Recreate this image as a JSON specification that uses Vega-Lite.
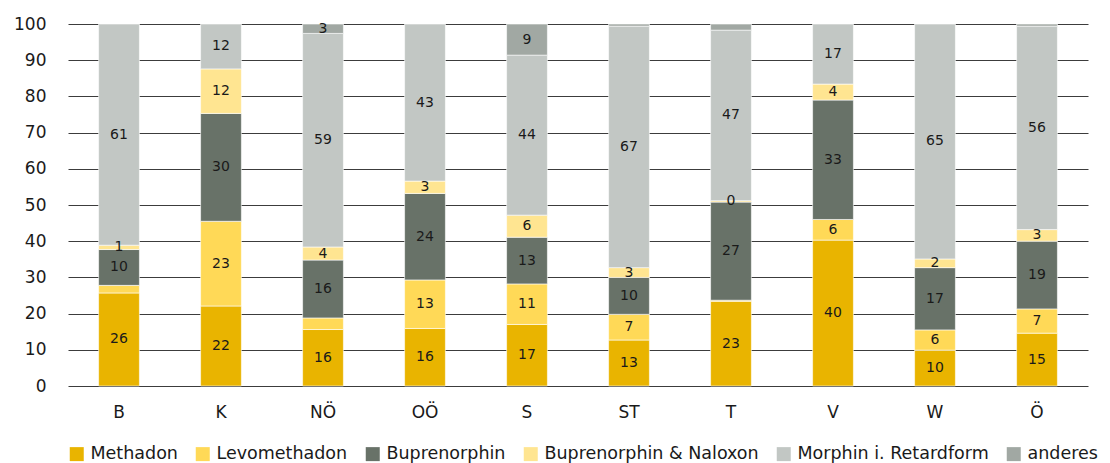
{
  "$schema": "https://vega.github.io/schema/vega-lite/v6.json",
  "width": 1020,
  "height": 362,
  "autosize": {"type": "none"},
  "padding": {"left": 68, "top": 24, "right": 22, "bottom": 77},
  "background": "#ffffff",
  "config": {
    "view": {"stroke": null},
    "font": "DejaVu Sans",
    "text": {"font": "DejaVu Sans"},
    "axisY": {
      "title": null,
      "values": [0, 10, 20, 30, 40, 50, 60, 70, 80, 90, 100],
      "labelOverlap": false,
      "ticks": false,
      "domain": false,
      "grid": true,
      "gridColor": "#3c3c3c",
      "gridWidth": 1,
      "labelPadding": 22,
      "labelFontSize": 17,
      "labelColor": "#1a1a1a"
    }
  },
  "datasets": {
    "drugs": [
      {"drug": "Methadon", "rank": 1},
      {"drug": "Levomethadon", "rank": 2},
      {"drug": "Buprenorphin", "rank": 3},
      {"drug": "Buprenorphin & Naloxon", "rank": 4},
      {"drug": "Morphin i. Retardform", "rank": 5},
      {"drug": "anderes", "rank": 6}
    ]
  },
  "data": {
    "values": [
      {"region": "B", "drug": "Methadon", "value": 25.7},
      {"region": "B", "drug": "Levomethadon", "value": 2.1},
      {"region": "B", "drug": "Buprenorphin", "value": 9.9},
      {"region": "B", "drug": "Buprenorphin & Naloxon", "value": 1.2},
      {"region": "B", "drug": "Morphin i. Retardform", "value": 61.1},

      {"region": "K", "drug": "Methadon", "value": 22.1},
      {"region": "K", "drug": "Levomethadon", "value": 23.4},
      {"region": "K", "drug": "Buprenorphin", "value": 29.8},
      {"region": "K", "drug": "Buprenorphin & Naloxon", "value": 12.3},
      {"region": "K", "drug": "Morphin i. Retardform", "value": 12.4},

      {"region": "NÖ", "drug": "Methadon", "value": 15.6},
      {"region": "NÖ", "drug": "Levomethadon", "value": 3.2},
      {"region": "NÖ", "drug": "Buprenorphin", "value": 16.0},
      {"region": "NÖ", "drug": "Buprenorphin & Naloxon", "value": 3.6},
      {"region": "NÖ", "drug": "Morphin i. Retardform", "value": 59.0},
      {"region": "NÖ", "drug": "anderes", "value": 2.6},

      {"region": "OÖ", "drug": "Methadon", "value": 15.9},
      {"region": "OÖ", "drug": "Levomethadon", "value": 13.4},
      {"region": "OÖ", "drug": "Buprenorphin", "value": 23.9},
      {"region": "OÖ", "drug": "Buprenorphin & Naloxon", "value": 3.4},
      {"region": "OÖ", "drug": "Morphin i. Retardform", "value": 43.4},

      {"region": "S", "drug": "Methadon", "value": 17.0},
      {"region": "S", "drug": "Levomethadon", "value": 11.2},
      {"region": "S", "drug": "Buprenorphin", "value": 12.9},
      {"region": "S", "drug": "Buprenorphin & Naloxon", "value": 6.1},
      {"region": "S", "drug": "Morphin i. Retardform", "value": 44.2},
      {"region": "S", "drug": "anderes", "value": 8.6},

      {"region": "ST", "drug": "Methadon", "value": 12.7},
      {"region": "ST", "drug": "Levomethadon", "value": 7.1},
      {"region": "ST", "drug": "Buprenorphin", "value": 10.2},
      {"region": "ST", "drug": "Buprenorphin & Naloxon", "value": 2.7},
      {"region": "ST", "drug": "Morphin i. Retardform", "value": 66.7},
      {"region": "ST", "drug": "anderes", "value": 0.6},

      {"region": "T", "drug": "Methadon", "value": 23.4},
      {"region": "T", "drug": "Levomethadon", "value": 0.3},
      {"region": "T", "drug": "Buprenorphin", "value": 27.1},
      {"region": "T", "drug": "Buprenorphin & Naloxon", "value": 0.4},
      {"region": "T", "drug": "Morphin i. Retardform", "value": 47.1},
      {"region": "T", "drug": "anderes", "value": 1.7},

      {"region": "V", "drug": "Methadon", "value": 40.3},
      {"region": "V", "drug": "Levomethadon", "value": 5.7},
      {"region": "V", "drug": "Buprenorphin", "value": 33.0},
      {"region": "V", "drug": "Buprenorphin & Naloxon", "value": 4.4},
      {"region": "V", "drug": "Morphin i. Retardform", "value": 16.6},

      {"region": "W", "drug": "Methadon", "value": 9.9},
      {"region": "W", "drug": "Levomethadon", "value": 5.6},
      {"region": "W", "drug": "Buprenorphin", "value": 17.2},
      {"region": "W", "drug": "Buprenorphin & Naloxon", "value": 2.4},
      {"region": "W", "drug": "Morphin i. Retardform", "value": 64.9},

      {"region": "Ö", "drug": "Methadon", "value": 14.6},
      {"region": "Ö", "drug": "Levomethadon", "value": 6.7},
      {"region": "Ö", "drug": "Buprenorphin", "value": 18.7},
      {"region": "Ö", "drug": "Buprenorphin & Naloxon", "value": 3.2},
      {"region": "Ö", "drug": "Morphin i. Retardform", "value": 56.2},
      {"region": "Ö", "drug": "anderes", "value": 0.6}
    ]
  },
  "transform": [
    {"lookup": "drug", "from": {"data": {"name": "drugs"}, "key": "drug", "fields": ["rank"]}}
  ],
  "encoding": {
    "x": {
      "field": "region",
      "type": "nominal",
      "sort": ["B", "K", "NÖ", "OÖ", "S", "ST", "T", "V", "W", "Ö"],
      "scale": {"paddingInner": 0.6, "paddingOuter": 0.3},
      "axis": {
        "title": null,
        "labelAngle": 0,
        "ticks": false,
        "domain": false,
        "labelPadding": 18,
        "labelFontSize": 17,
        "labelColor": "#1a1a1a"
      }
    },
    "order": {"field": "rank", "type": "quantitative", "sort": "ascending"}
  },
  "layer": [
    {
      "mark": {"type": "bar", "stroke": "#ffffff", "strokeWidth": 0.6},
      "encoding": {
        "y": {
          "field": "value",
          "type": "quantitative",
          "stack": "zero",
          "scale": {"domain": [0, 100], "nice": false}
        },
        "color": {
          "field": "drug",
          "type": "nominal",
          "sort": ["Methadon", "Levomethadon", "Buprenorphin", "Buprenorphin & Naloxon", "Morphin i. Retardform", "anderes"],
          "scale": {
            "domain": ["Methadon", "Levomethadon", "Buprenorphin", "Buprenorphin & Naloxon", "Morphin i. Retardform", "anderes"],
            "range": ["#e9b400", "#ffd957", "#687268", "#ffe591", "#c2c7c4", "#a1a8a3"]
          },
          "legend": {
            "title": null,
            "orient": "bottom",
            "direction": "horizontal",
            "symbolType": "square",
            "symbolSize": 196,
            "symbolStrokeWidth": 0,
            "labelFontSize": 17.5,
            "labelLimit": 400,
            "labelColor": "#1a1a1a",
            "labelOffset": 5,
            "columnPadding": 16,
            "offset": 25
          }
        }
      }
    },
    {
      "mark": {"type": "text", "fontSize": 14, "color": "#1a1a1a", "baseline": "middle"},
      "encoding": {
        "y": {
          "field": "value",
          "type": "quantitative",
          "stack": "zero",
          "bandPosition": 0.5,
          "scale": {"domain": [0, 100], "nice": false}
        },
        "detail": {"field": "drug", "type": "nominal"},
        "text": {"field": "value", "type": "quantitative", "format": ".0f"},
        "opacity": {
          "condition": {
            "test": "(datum.drug == 'anderes' && datum.value < 2) || (datum.drug == 'Levomethadon' && datum.value < 4)",
            "value": 0
          },
          "value": 1
        }
      }
    }
  ]
}
